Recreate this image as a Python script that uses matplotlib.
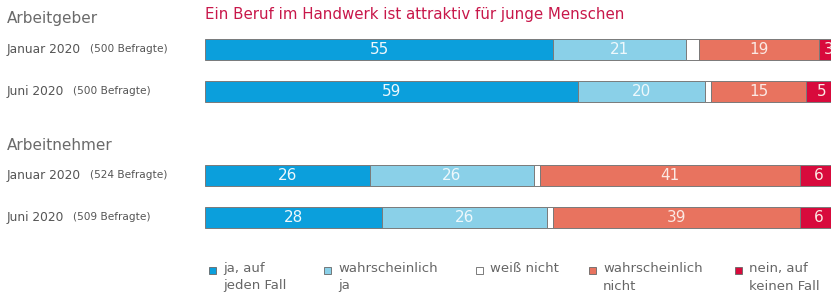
import matplotlib.pyplot as plt
from matplotlib.patches import Rectangle

# data
categories = ["ja, auf\njeden Fall", "wahrscheinlich\nja", "weiß nicht",
              "wahrscheinlich\nnicht", "nein, auf\nkeinen Fall"]
colors = ["#0b9fdc", "#8ad0e8", "#ffffff", "#e8735f", "#d80a3c"]
label_colors = ["#eef8fc", "#eef8fc", "#ffffff", "#fbe9e4", "#fbe9e4"]

groups = ["Arbeitgeber", "Arbeitnehmer"]
row_dates = ["Januar 2020", "Juni 2020", "Januar 2020", "Juni 2020"]
row_counts = ["(500 Befragte)", "(500 Befragte)", "(524 Befragte)", "(509 Befragte)"]
row_pos = [0, 1, 3, 4]

ja_jeden_fall = [55, 59, 26, 28]
wahrsch_ja = [21, 20, 26, 26]
weiss_nicht = [2, 1, 1, 1]
wahrsch_nicht = [19, 15, 41, 39]
nein_keinen_fall = [3, 5, 6, 6]
series = [ja_jeden_fall, wahrsch_ja, weiss_nicht, wahrsch_nicht, nein_keinen_fall]

title = "Ein Beruf im Handwerk ist attraktiv für junge Menschen"

W, H = 831, 297
fig = plt.figure(figsize=(W / 100, H / 100), dpi=100)
# axes runs past the right edge, the reference crops the last segment
ax = fig.add_axes([205 / W, (H - 238) / H, 633 / W, 210 / H])
ax.set_xlim(0, 100)
ax.set_ylim(4.5, -0.5)
ax.axis("off")

left = [0] * len(row_pos)
for vals, col, lc in zip(series, colors, label_colors):
    bars = ax.barh(row_pos, vals, left=left, height=0.5, color=col,
                   edgecolor="#7a7a7a", linewidth=0.7)
    for b, v in zip(bars, vals):
        if v >= 3:
            ax.text(b.get_x() + b.get_width() / 2, b.get_y() + b.get_height() / 2,
                    str(v), ha="center", va="center", color=lc, fontsize=11,
                    clip_on=False)
    left = [l + v for l, v in zip(left, vals)]

# titles and row labels
fig.text(205 / W, 1 - 14 / H, title, color="#c8174a", fontsize=10.8,
         ha="left", va="center")
fig.text(7 / W, 1 - 19 / H, groups[0], color="#6a6a6a", fontsize=11, va="center")
fig.text(7 / W, 1 - 145 / H, groups[1], color="#6a6a6a", fontsize=11, va="center")

for p, d, c in zip(row_pos, row_dates, row_counts):
    t = ax.annotate(d, xy=(0, p), xycoords=("figure fraction", "data"),
                    xytext=(7, 0), textcoords="offset pixels",
                    va="center", ha="left", fontsize=8.8, color="#555555")
    ax.annotate(c, xy=(1, 0.5), xycoords=t, xytext=(9, 0),
                textcoords="offset pixels", va="center", ha="left",
                fontsize=7.6, color="#555555")

# legend
leg_x = [209, 324, 476, 589, 735]
for x, lab, col in zip(leg_x, categories, colors):
    fig.patches.append(Rectangle((x / W, 1 - 274 / H), 7 / W, 7 / H,
                                 transform=fig.transFigure, facecolor=col,
                                 edgecolor="#666666", linewidth=0.6))
    fig.text((x + 14) / W, 1 - 262 / H, lab, color="#666666", fontsize=9.5,
             ha="left", va="top", linespacing=1.45)

plt.savefig("out.png", dpi=100)
